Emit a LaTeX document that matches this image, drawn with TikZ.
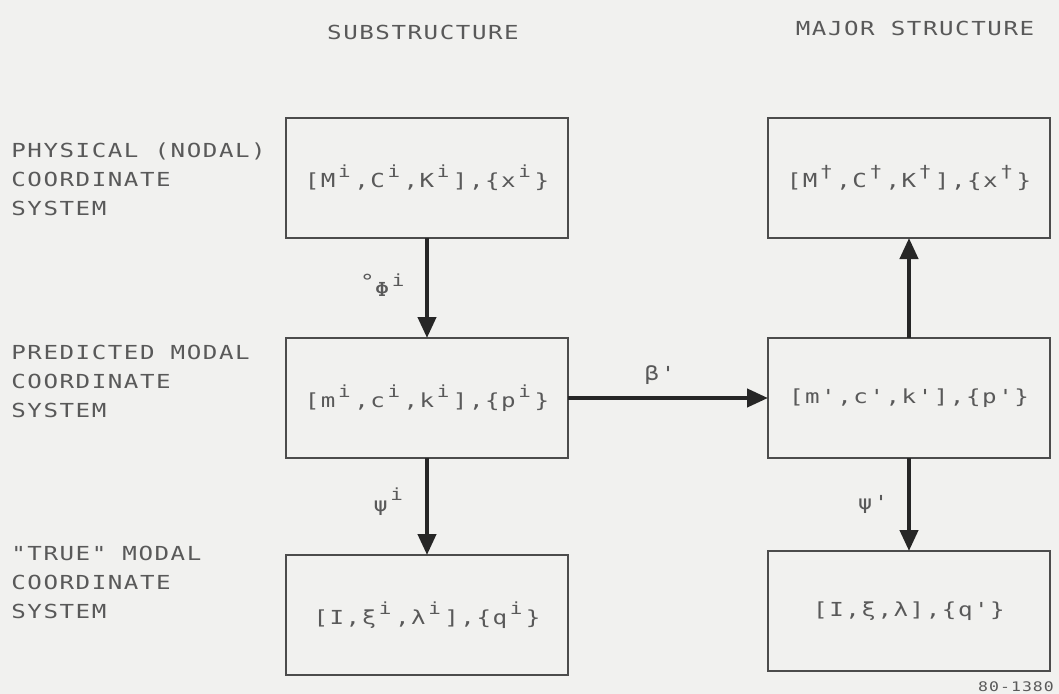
\documentclass[tikz,border=0pt]{standalone}
\usepackage{fontspec}
\usepackage{xcolor}
\usepackage{tikz}
\usetikzlibrary{positioning,arrows.meta}
\newfontfamily\tw[FakeStretch=1.25,LetterSpace=8]{DejaVu Sans Mono}
\newcommand{\up}[1]{\kern1.5pt\raisebox{0.95ex}{\fontsize{9.5}{10}\selectfont #1}\kern2pt}
\definecolor{ink}{gray}{0.35}
\definecolor{paper}{RGB}{241,241,239}

\begin{document}
\begin{tikzpicture}[txt/.style={font=\tw\fontsize{11}{16.5}\selectfont, text=ink},
  box/.style={txt, draw=black!70, line width=1pt, minimum width=5.64cm, minimum height=2.4cm, inner sep=0pt, outer sep=0pt},
  lbl/.style={txt, align=left, anchor=west, inner sep=0pt},
  arr/.style={line width=2.4pt, draw=black!85, -{Triangle[length=0.42cm, width=0.36cm]}}]
\fill[paper] (0,0) rectangle (21.18,-13.88);
\useasboundingbox (0,0) rectangle (21.18,-13.88);
% column heads
\node[txt] (hsub) at (8.46,-0.64) {SUBSTRUCTURE};
\node[txt] (hmaj) at (18.3,-0.56) {MAJOR STRUCTURE};
% row labels
\node[lbl] (r1) at (0.22,-3.58) {PHYSICAL (NODAL)\\COORDINATE\\SYSTEM};
\node[lbl] (r2) at (0.22,-7.62) {PREDICTED MODAL\\COORDINATE\\SYSTEM};
\node[lbl] (r3) at (0.22,-11.64) {"TRUE" MODAL\\COORDINATE\\SYSTEM};
% boxes
\node[box] (s1) at (8.54,-3.56) {[M\up{i},C\up{i},K\up{i}],\{x\up{i}\}};
\node[box, below=2cm of s1] (s2) {[m\up{i},c\up{i},k\up{i}],\{p\up{i}\}};
\node[box, below=1.94cm of s2] (s3) {[I,ξ\up{i},λ\up{i}],\{q\up{i}\}};
\node[box, right=4cm of s2] (m2) {[m',c',k'],\{p'\}};
\node[box, above=2cm of m2] (m1) {[M\up{†},C\up{†},K\up{†}],\{x\up{†}\}};
\node[box, below=1.86cm of m2] (m3) {[I,ξ,λ],\{q'\}};
% transformations
\draw[arr] (s1) -- node[txt, left=0.22cm, pos=0.47] (lphi) {\raisebox{0.7ex}{°}Φ\up{i}} (s2);
\draw[arr] (s2) -- node[txt, left=0.25cm, pos=0.45] (lpsi) {ψ\up{i}} (s3);
\draw[arr] (s2) -- node[txt, above=0.12cm, pos=0.46] (lbeta) {β'} (m2);
\draw[arr] (m2) -- (m1);
\draw[arr] (m2) -- node[txt, left=0.25cm] (lpsim) {ψ'} (m3);
\node[txt, font=\tw\fontsize{7.5}{8}\selectfont] (tag) at (20.32,-13.74) {80-1380};
\end{tikzpicture}
\end{document}
